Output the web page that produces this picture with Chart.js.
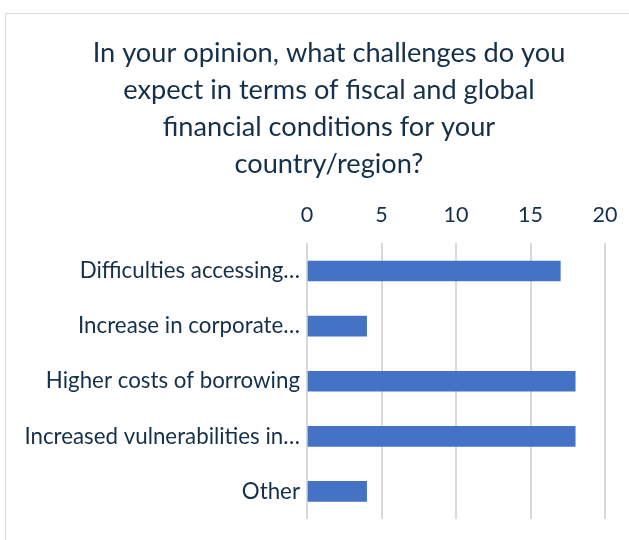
<!DOCTYPE html>
<html>
<head>
    <title>Fiscal and global financial challenges</title>
    <script src="https://cdn.jsdelivr.net/npm/chart.js"></script>
    <style>
        body {
            margin: 0;
            background: white;
            overflow: hidden;
        }
        .frame {
            position: absolute;
            left: 5px;
            top: 13px;
            width: 660px;
            height: 560px;
            border: 1px solid #d9d9d9;
            background: white;
        }
    </style>
</head>
<body>
    <div class="frame">
        <canvas id="chart" width="646" height="540"></canvas>
    </div>
    <script>
        const titleLines = [
            'In your opinion, what challenges do you',
            'expect in terms of fiscal and global',
            'financial conditions for your',
            'country/region?'
        ];
        const categories = [
            'Difficulties accessing\u2026',
            'Increase in corporate\u2026',
            'Higher costs of borrowing',
            'Increased vulnerabilities in\u2026',
            'Other'
        ];
        const responses = [17, 4, 18, 18, 4];
        const tickValues = [0, 5, 10, 15, 20];

        const textColor = '#14304a';
        const fontFamily = 'Lato, "Noto Sans", sans-serif';

        new Chart(document.getElementById('chart').getContext('2d'), {
            type: 'bar',
            data: {
                labels: categories,
                datasets: [{
                    label: 'Responses',
                    data: responses,
                    backgroundColor: '#4472C4',
                    barThickness: 20
                }]
            },
            options: {
                indexAxis: 'y',
                responsive: false,
                animation: false,
                layout: { padding: { left: 0, right: 0, top: 0, bottom: 35 } },
                plugins: {
                    legend: { display: false },
                    tooltip: { enabled: false },
                    title: {
                        display: true,
                        text: titleLines,
                        color: textColor,
                        font: { family: fontFamily, size: 27.2, weight: 'normal', lineHeight: 1.36 },
                        padding: { top: 21, bottom: 10 }
                    }
                },
                scales: {
                    x: {
                        position: 'top',
                        min: 0,
                        max: 20,
                        afterBuildTicks: axis => {
                            axis.ticks = tickValues.map(v => ({ value: v }));
                        },
                        afterFit: axis => { axis.height = 50.5; },
                        grid: { color: '#d9d9d9', lineWidth: 2, drawTicks: false },
                        border: { display: false },
                        ticks: {
                            color: textColor,
                            padding: 16,
                            font: { family: fontFamily, size: 21.5 }
                        }
                    },
                    y: {
                        afterFit: axis => { axis.width = 301; },
                        grid: { display: false, drawTicks: false },
                        border: { display: false },
                        ticks: {
                            color: textColor,
                            padding: 7,
                            font: { family: fontFamily, size: 22.3 }
                        }
                    },
                    // empty right-hand axis, only keeps room right of the plot
                    yRight: {
                        position: 'right',
                        afterFit: axis => { axis.width = 47; },
                        grid: { display: false, drawTicks: false },
                        border: { display: false },
                        ticks: { display: false }
                    }
                }
            }
        });
    </script>
</body>
</html>
